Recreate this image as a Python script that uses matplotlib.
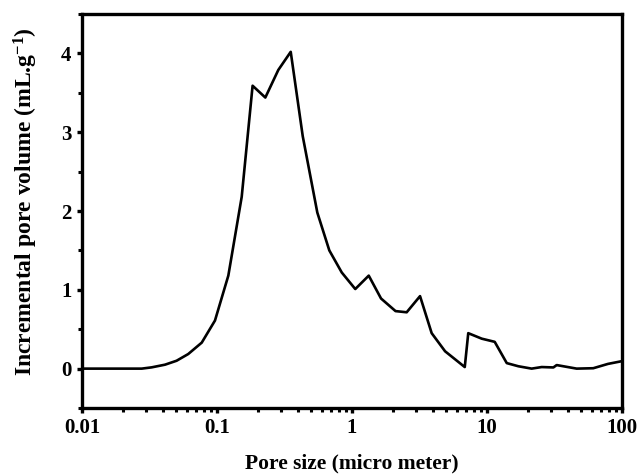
import numpy as np
import matplotlib
matplotlib.use("Agg")
import matplotlib.pyplot as plt
from matplotlib.ticker import LogLocator, MultipleLocator, FixedLocator, FixedFormatter

plt.rcParams['font.family'] = 'Liberation Serif'
plt.rcParams['font.weight'] = 'bold'
plt.rcParams['mathtext.fontset'] = 'custom'
plt.rcParams['mathtext.rm'] = 'Liberation Serif:bold'
plt.rcParams['mathtext.it'] = 'Liberation Serif:bold'
plt.rcParams['mathtext.bf'] = 'Liberation Serif:bold'

# pore size (micro meter) and incremental pore volume
pore_size = [0.01, 0.0277, 0.0328, 0.0412, 0.0502, 0.0612, 0.0771, 0.0966,
             0.1213, 0.1524, 0.1835, 0.228, 0.2845, 0.3516, 0.4315, 0.5534,
             0.679, 0.8395, 1.057, 1.33, 1.64, 2.10, 2.54, 3.19, 3.89, 4.89,
             6.84, 7.26, 9.14, 11.4, 14.0, 17.06, 21.4, 25.4, 31.0, 32.8,
             46.1, 61.2, 78.7, 100]
pore_volume = [0, 0, 0.016, 0.05, 0.10, 0.185, 0.33, 0.61,
               1.18, 2.18, 3.59, 3.44, 3.79, 4.02, 2.95, 1.98,
               1.50, 1.22, 1.01, 1.18, 0.89, 0.73, 0.715, 0.92, 0.45, 0.22,
               0.02, 0.45, 0.38, 0.34, 0.07, 0.03, 0.0, 0.02, 0.015, 0.045,
               0.0, 0.005, 0.06, 0.095]

x_ticks = [0.01, 0.1, 1, 10, 100]
x_labels = ['0.01', '0.1', '1', '10', '100']

fig = plt.figure(figsize=(6.38, 4.75), dpi=100)
ax = fig.add_axes([0.1285, 0.141, 0.8465, 0.8295])

ax.plot(pore_size, pore_volume, color='black', lw=1.9)

ax.set_xscale('log')
ax.set_xlim(0.01, 100)
ax.set_ylim(-0.5, 4.5)

ax.xaxis.set_major_locator(FixedLocator(x_ticks))
ax.xaxis.set_major_formatter(FixedFormatter(x_labels))
ax.xaxis.set_minor_locator(LogLocator(base=10, subs=np.arange(2, 10)))
ax.yaxis.set_major_locator(MultipleLocator(1))
ax.yaxis.set_minor_locator(MultipleLocator(0.5))

for s in ax.spines.values():
    s.set_linewidth(2.4)

ax.tick_params(which='major', direction='out', length=3.5, width=2.4,
               labelsize=15, pad=4)
ax.tick_params(which='minor', direction='out', length=3, width=2.2)

ax.set_xlabel('Pore size (micro meter)', fontsize=15.5, fontweight='bold', labelpad=11)
ax.set_ylabel(r'Incremental pore volume (mL.g$^{-1}$)', fontsize=17,
              fontweight='bold')
ax.yaxis.set_label_coords(-0.077, 0.525)

fig.savefig('out.png', dpi=100)
